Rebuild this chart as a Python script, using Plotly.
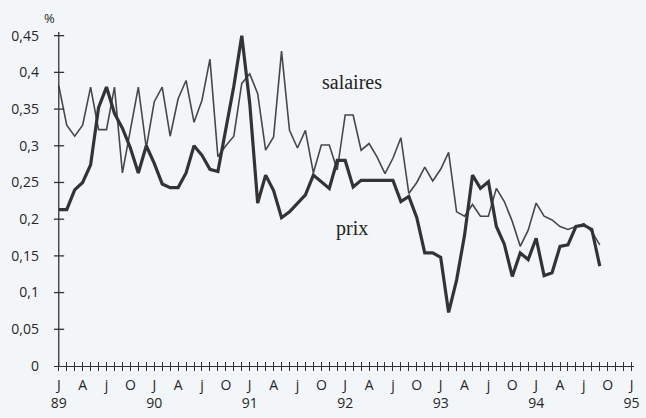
import plotly.graph_objects as go

# Monthly values, Jan 1989 .. Sep 1994 (in %)
salaires = [0.382, 0.328, 0.313, 0.328, 0.380, 0.322, 0.322, 0.380, 0.263, 0.320,
            0.380, 0.297, 0.360, 0.380, 0.313, 0.364, 0.389, 0.332, 0.362, 0.418,
            0.285, 0.300, 0.313, 0.385, 0.398, 0.371, 0.294, 0.312, 0.429, 0.321,
            0.297, 0.321, 0.263, 0.301, 0.301, 0.267, 0.342, 0.342, 0.294, 0.303,
            0.285, 0.262, 0.283, 0.311, 0.235, 0.250, 0.271, 0.252, 0.268, 0.291,
            0.210, 0.204, 0.220, 0.204, 0.204, 0.242, 0.224, 0.197, 0.163, 0.185,
            0.222, 0.204, 0.199, 0.190, 0.186, 0.190, 0.194, 0.183, 0.165]
prix = [0.213, 0.213, 0.240, 0.250, 0.274, 0.352, 0.380, 0.344, 0.324, 0.297,
        0.263, 0.300, 0.276, 0.248, 0.243, 0.243, 0.263, 0.300, 0.287, 0.268,
        0.265, 0.322, 0.381, 0.450, 0.358, 0.222, 0.260, 0.239, 0.202, 0.210,
        0.221, 0.233, 0.260, 0.251, 0.242, 0.280, 0.280, 0.244, 0.253, 0.253,
        0.253, 0.253, 0.253, 0.224, 0.231, 0.202, 0.154, 0.154, 0.148, 0.073,
        0.117, 0.178, 0.260, 0.242, 0.251, 0.190, 0.166, 0.122, 0.154, 0.145,
        0.174, 0.123, 0.127, 0.163, 0.165, 0.190, 0.192, 0.186, 0.136]
quarter_labels = ["J", "A", "j", "O"]
year_labels = ["89", "90", "91", "92", "93", "94", "95"]
y_ticks = [0, 0.05, 0.1, 0.15, 0.2, 0.25, 0.3, 0.35, 0.4, 0.45]
y_labels = ["0", "0,05", "0,1", "0,15", "0,2", "0,25", "0,3", "0,35", "0,4", "0,45"]

n_months = 12 * (len(year_labels) - 1)
x_vals = list(range(n_months + 1))
x_text = []
for m in x_vals:
    if m % 3 == 0:
        q = quarter_labels[(m % 12) // 3]
        if m % 12 == 0:
            x_text.append(q + "<br>" + year_labels[m // 12])
        else:
            x_text.append(q)
    else:
        x_text.append("")

ink = "#333333"
bg = "#f3f6f8"
txt = "#262626"

fig = go.Figure()
fig.add_trace(go.Scatter(x=list(range(len(salaires))), y=salaires, mode="lines",
                         line=dict(color="#474747", width=1.6), showlegend=False))
fig.add_trace(go.Scatter(x=list(range(len(prix))), y=prix, mode="lines",
                         line=dict(color=ink, width=3.2), showlegend=False))
# invisible trace so the overlaid axis (inner halves of the crossing ticks) is drawn
fig.add_trace(go.Scatter(x=[0], y=[0], xaxis="x2", yaxis="y", mode="lines",
                         line=dict(width=0), showlegend=False, hoverinfo="skip"))

xr = [-0.6, n_months + 0.3]
yr = [0, 0.455]
fig.update_layout(
    width=646, height=418,
    margin=dict(l=54, r=6, t=32, b=51),
    paper_bgcolor=bg, plot_bgcolor=bg,
    xaxis=dict(range=xr, tickmode="array", tickvals=x_vals, ticktext=x_text,
               ticks="outside", ticklen=4, tickwidth=1.2, tickcolor=ink,
               showline=True, linecolor=ink, linewidth=1.3, showgrid=False,
               zeroline=False, ticklabelstandoff=2,
               tickfont=dict(family="Open Sans", size=14, color=txt)),
    yaxis=dict(range=yr, tickmode="array", tickvals=y_ticks, ticktext=y_labels,
               ticks="", showline=False, showgrid=False,
               zeroline=False, ticklabelstandoff=14,
               tickfont=dict(family="Open Sans", size=14, color=txt)),
    xaxis2=dict(range=xr, overlaying="x", anchor="y", side="bottom",
                tickmode="array", tickvals=x_vals, showticklabels=False,
                ticks="inside", ticklen=4, tickwidth=1.2, tickcolor=ink,
                showline=False, showgrid=False, zeroline=False),
    shapes=[
        # y axis line at January 1989
        dict(type="line", xref="x", yref="paper", x0=0, x1=0, y0=0, y1=1,
             line=dict(color=ink, width=1.3)),
    ] + [
        # crossing ticks on the y axis
        dict(type="line", xref="paper", yref="y", x0=0.0, x1=0.0175, y0=v, y1=v,
             line=dict(color=ink, width=1.3)) for v in y_ticks[1:]
    ],
    annotations=[
        dict(text="%", xref="paper", yref="paper", x=-0.02, y=1.0, yshift=14,
             yanchor="middle", showarrow=False,
             font=dict(family="Open Sans", size=13, color=txt)),
        dict(text="salaires", x=36.9, y=0.387, showarrow=False,
             font=dict(family="Liberation Serif", size=20, color="#222222")),
        dict(text="prix", x=36.9, y=0.188, showarrow=False,
             font=dict(family="Liberation Serif", size=20, color="#222222")),
    ],
)

fig.write_html(
    "out.html",
    config={"displayModeBar": False},
    post_script="document.body.style.margin='0px';document.body.style.backgroundColor='%s';" % bg,
)
